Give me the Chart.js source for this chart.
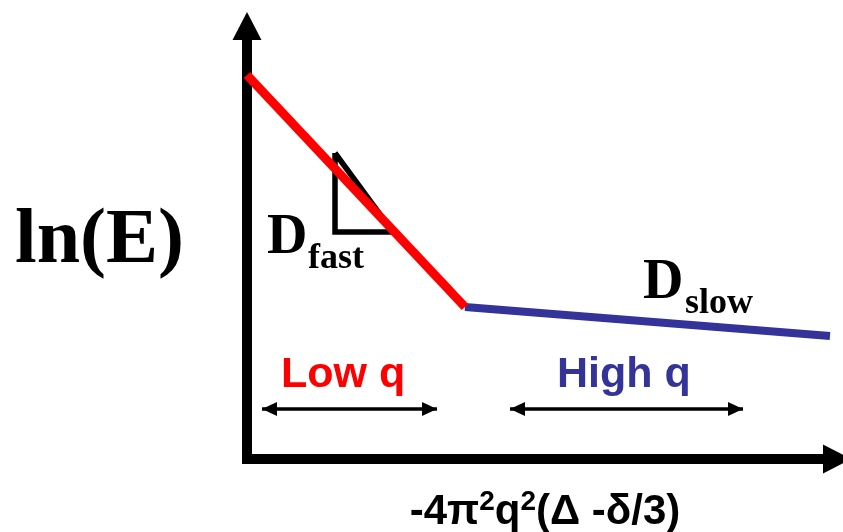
<!DOCTYPE html>
<html>
<head>
<meta charset="utf-8">
<script src="https://cdn.jsdelivr.net/npm/chart.js@4.4.1/dist/chart.umd.min.js"></script>
<style>
  html, body { margin: 0; padding: 0; background: #fff; }
  #wrap { width: 843px; height: 532px; }
</style>
</head>
<body>
<div id="wrap"><canvas id="diffChart" width="843" height="532"></canvas></div>
<script>
// schematic values (arbitrary units, origin where the two axes meet)
const fastX = [0, 5.45];
const fastY = [9.6, 3.8];
const slowX = [5.45, 14.575];
const slowY = [3.8, 3.075];

// slope triangle under the fast line
const triX = [2.2, 2.2, 3.65, 2.2];
const triY = [7.65, 5.675, 5.675, 7.65];

// q ranges shown with double arrows
const lowRange = [0.375, 4.75];
const highRange = [6.575, 12.4];
const rangeLevel = 1.25;

// axis ends (arrow tips)
const yAxisTip = 11.175;
const xAxisTip = 15.1;

const yTitle = 'ln(E)';
// x title pieces: [text, superscript?]
const xTitleParts = [['-4\u03c0', false], ['2', true], ['q', false], ['2', true], ['(\u0394 -\u03b4/3)', false]];
const lowLabel = 'Low q';
const highLabel = 'High q';

const RED = '#ff0000';
const BLUE = '#333399';

//turn two arrays into {x,y} points
function pts(xs, ys) {
    return xs.map((x, i) => ({ x: x, y: ys[i] }));
}

function arrowHead(ctx, tipX, tipY, dirX, dirY, len, half) {
    const bx = tipX - dirX * len, by = tipY - dirY * len;
    ctx.beginPath();
    ctx.moveTo(tipX, tipY);
    ctx.lineTo(bx - dirY * half, by + dirX * half);
    ctx.lineTo(bx + dirY * half, by - dirX * half);
    ctx.closePath();
    ctx.fill();
}

// draws the two axes with arrows (under the data)
const axesPlugin = {
    id: 'axes',
    beforeDatasetsDraw(chart) {
        const ctx = chart.ctx;
        const xs = chart.scales.x, ys = chart.scales.y;
        const ox = xs.getPixelForValue(0), oy = ys.getPixelForValue(0);
        const ty = ys.getPixelForValue(yAxisTip);
        const tx = xs.getPixelForValue(xAxisTip);
        ctx.save();
        ctx.fillStyle = '#000';
        ctx.strokeStyle = '#000';
        ctx.lineWidth = 10;
        ctx.beginPath();
        ctx.moveTo(ox, oy + 5);
        ctx.lineTo(ox, ty + 26);
        ctx.moveTo(ox - 5, oy);
        ctx.lineTo(tx - 26, oy);
        ctx.stroke();
        arrowHead(ctx, ox, ty, 0, -1, 28, 14.5);
        arrowHead(ctx, tx, oy, 1, 0, 28, 14.5);
        ctx.restore();
    }
};

// arrow heads of the q ranges and all the labels
const labelPlugin = {
    id: 'labels',
    afterDatasetsDraw(chart) {
        const ctx = chart.ctx;
        const xs = chart.scales.x, ys = chart.scales.y;
        const py = ys.getPixelForValue(rangeLevel);
        ctx.save();
        ctx.fillStyle = '#000';
        [lowRange, highRange].forEach(r => {
            arrowHead(ctx, xs.getPixelForValue(r[0]), py, -1, 0, 15, 7);
            arrowHead(ctx, xs.getPixelForValue(r[1]), py, 1, 0, 15, 7);
        });

        const ox = xs.getPixelForValue(0), oy = ys.getPixelForValue(0);
        ctx.textBaseline = 'alphabetic';
        ctx.textAlign = 'left';

        // y title
        ctx.font = 'bold 78px "Liberation Serif", "Times New Roman", serif';
        ctx.fillText(yTitle, ox - 232, oy - 197);

        // D fast / D slow
        ctx.font = 'bold 56px "Liberation Serif", serif';
        ctx.fillText('D', ox + 20, oy - 206);
        ctx.fillText('D', ox + 396, oy - 161);
        ctx.font = 'bold 36px "Liberation Serif", serif';
        ctx.fillText('fast', ox + 61, oy - 191);
        ctx.fillText('slow', ox + 438, oy - 146);

        // range labels
        ctx.font = 'bold 43px "Liberation Sans", Arial, sans-serif';
        ctx.fillStyle = RED;
        ctx.fillText(lowLabel, ox + 34, oy - 72);
        ctx.fillStyle = BLUE;
        ctx.fillText(highLabel, ox + 310, oy - 72);

        // x title, drawn in pieces for the superscripts
        ctx.fillStyle = '#000';
        const mainFont = 'bold 42px "Liberation Sans", Arial, sans-serif';
        const supFont = 'bold 28px "Liberation Sans", Arial, sans-serif';
        let total = 0;
        xTitleParts.forEach(p => {
            ctx.font = p[1] ? supFont : mainFont;
            total += ctx.measureText(p[0]).width;
        });
        let cx = ox + 298 - total / 2;
        const base = oy + 65;
        xTitleParts.forEach(p => {
            ctx.font = p[1] ? supFont : mainFont;
            ctx.fillText(p[0], cx, p[1] ? base - 14 : base);
            cx += ctx.measureText(p[0]).width;
        });
        ctx.restore();
    }
};

const ctxDiff = document.getElementById('diffChart').getContext('2d');
new Chart(ctxDiff, {
    type: 'line',
    data: {
        datasets: [
            { data: pts(fastX, fastY), borderColor: RED, borderWidth: 9, pointRadius: 0 },
            { data: pts(slowX, slowY), borderColor: BLUE, borderWidth: 8, pointRadius: 0 },
            { data: pts(triX, triY), borderColor: '#000', borderWidth: 5.5, pointRadius: 0, borderJoinStyle: 'miter' },
            { data: pts(lowRange, [rangeLevel, rangeLevel]), borderColor: '#000', borderWidth: 3.5, pointRadius: 0 },
            { data: pts(highRange, [rangeLevel, rangeLevel]), borderColor: '#000', borderWidth: 3.5, pointRadius: 0 }
        ]
    },
    options: {
        responsive: false,
        animation: false,
        devicePixelRatio: 1,
        layout: { padding: 0 },
        plugins: { legend: { display: false }, tooltip: { enabled: false } },
        scales: {
            x: { type: 'linear', min: -6.175, max: 14.9, display: false },
            y: { type: 'linear', min: -1.825, max: 11.475, display: false }
        }
    },
    plugins: [axesPlugin, labelPlugin]
});
</script>
</body>
</html>
